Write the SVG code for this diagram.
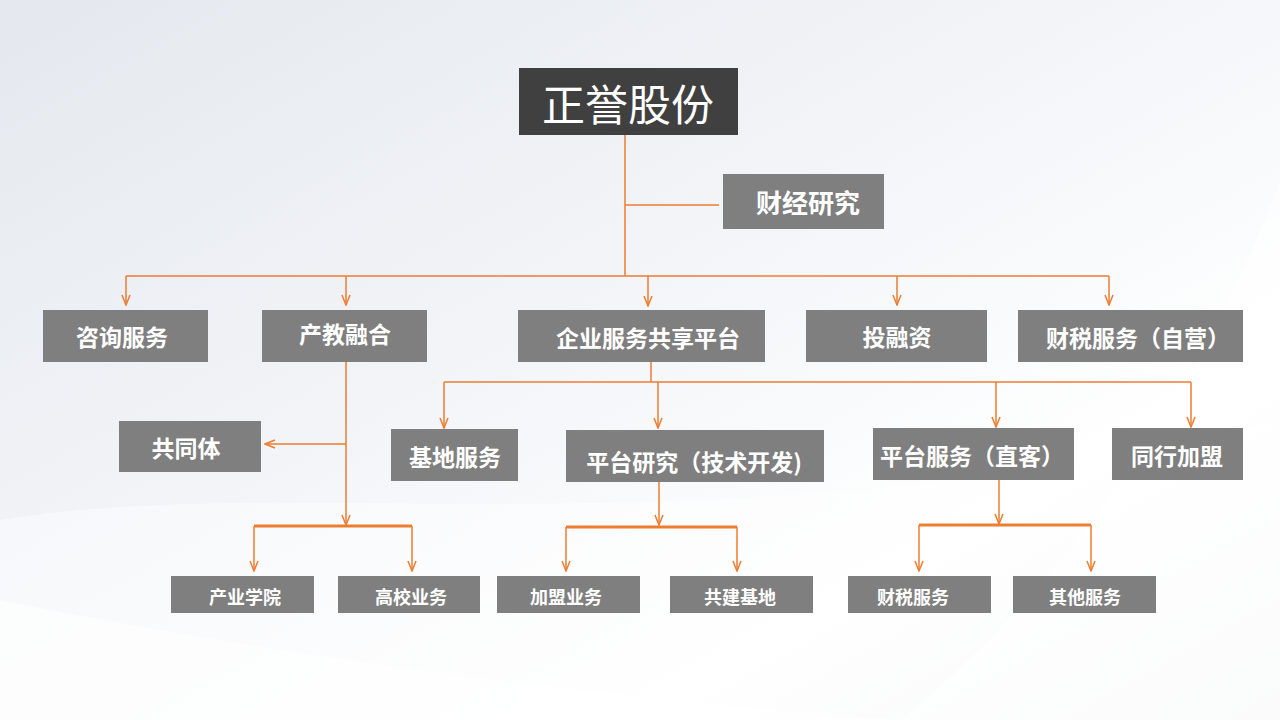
<svg xmlns="http://www.w3.org/2000/svg" width="1280" height="720" viewBox="0 0 1280 720">
<defs>
<linearGradient id="bg" x1="0" y1="0" x2="1" y2="1">
<stop offset="0" stop-color="#e4e8ee"/>
<stop offset="0.45" stop-color="#f3f5f8"/>
<stop offset="0.75" stop-color="#ffffff"/>
<stop offset="1" stop-color="#eef0f3"/>
</linearGradient>
<marker id="arr" viewBox="0 0 12 10" refX="11" refY="5" markerWidth="12" markerHeight="10" markerUnits="userSpaceOnUse" orient="auto">
<path d="M1,1 L11,5 L1,9" fill="none" stroke="#ED7D31" stroke-width="1.5"/>
</marker>
<style>
.box{fill:#7f7f7f}
.top{fill:#404040}
.t{font-family:"Noto Sans CJK SC","Noto Sans",sans-serif;font-weight:bold;fill:#ffffff;text-anchor:middle;dominant-baseline:central}
.t1{font-size:23px}
.t3{font-size:18px}
.ln{fill:none;stroke:#ED7D31;stroke-width:1.5}
.lb{fill:none;stroke:#ED7D31;stroke-width:3}
</style>
</defs>
<rect width="1280" height="720" fill="url(#bg)"/>
<path d="M0,520 C300,470 700,560 1280,420 L1280,720 L0,720 Z" fill="#ffffff" opacity="0.45"/>
<path d="M900,720 C1050,600 1200,400 1280,180 L1280,720 Z" fill="#ffffff" opacity="0.5"/>
<path d="M0,600 C200,640 500,690 900,720 L0,720 Z" fill="#ffffff" opacity="0.6"/>

<g id="connectors">
<path class="ln" d="M625,135 V276"/>
<path class="ln" d="M625,205 H719"/>
<path class="ln" d="M126,276 H1109"/>
<path class="ln" d="M126,276 V305" marker-end="url(#arr)"/>
<path class="ln" d="M346,276 V305" marker-end="url(#arr)"/>
<path class="ln" d="M648,276 V306" marker-end="url(#arr)"/>
<path class="ln" d="M897,276 V305" marker-end="url(#arr)"/>
<path class="ln" d="M1109,276 V305" marker-end="url(#arr)"/>
<path class="ln" d="M651,362 V382"/>
<path class="ln" d="M444,382 H1191"/>
<path class="ln" d="M444,382 V428" marker-end="url(#arr)"/>
<path class="ln" d="M658,382 V428" marker-end="url(#arr)"/>
<path class="ln" d="M996,382 V427" marker-end="url(#arr)"/>
<path class="ln" d="M1191,382 V427" marker-end="url(#arr)"/>
<path class="ln" d="M346,362 V525" marker-end="url(#arr)"/>
<path class="ln" d="M346,444 H265" marker-end="url(#arr)"/>
<path class="lb" d="M254,526 H412"/>
<path class="ln" d="M254,526 V571" marker-end="url(#arr)"/>
<path class="ln" d="M412,526 V571" marker-end="url(#arr)"/>
<path class="ln" d="M659,482 V525" marker-end="url(#arr)"/>
<path class="lb" d="M566,527 H737"/>
<path class="ln" d="M566,527 V571" marker-end="url(#arr)"/>
<path class="ln" d="M737,527 V571" marker-end="url(#arr)"/>
<path class="ln" d="M999,480 V524" marker-end="url(#arr)"/>
<path class="lb" d="M919,525 H1091"/>
<path class="ln" d="M919,525 V571" marker-end="url(#arr)"/>
<path class="ln" d="M1091,525 V571" marker-end="url(#arr)"/>
</g>

<g id="n0"><rect class="top" x="519" y="68" width="219" height="67"/><text class="t" x="628" y="102" style="font-size:43px;font-weight:normal">正誉股份</text></g>
<g id="n1"><rect class="box" x="723" y="174" width="161" height="55"/><text class="t" x="808" y="201" style="font-size:26px">财经研究</text></g>

<g id="n2"><rect class="box" x="43" y="310" width="165" height="52"/><text class="t t1" x="122" y="336">咨询服务</text></g>
<g id="n3"><rect class="box" x="262" y="310" width="165" height="52"/><text class="t t1" x="345" y="333">产教融合</text></g>
<g id="n4"><rect class="box" x="518" y="310" width="247" height="52"/><text class="t t1" x="648" y="337">企业服务共享平台</text></g>
<g id="n5"><rect class="box" x="806" y="310" width="181" height="52"/><text class="t t1" x="897" y="336">投融资</text></g>
<g id="n6"><rect class="box" x="1018" y="310" width="225" height="52"/><text class="t t1" x="1138" y="337">财税服务（自营）</text></g>

<g id="n7"><rect class="box" x="119" y="421" width="142" height="51"/><text class="t t1" x="186" y="447">共同体</text></g>
<g id="n8"><rect class="box" x="391" y="429" width="127" height="52"/><text class="t t1" x="455" y="456">基地服务</text></g>
<g id="n9"><rect class="box" x="566" y="430" width="258" height="52"/><text class="t t1" x="694" y="461">平台研究（技术开发)</text></g>
<g id="n10"><rect class="box" x="873" y="428" width="201" height="52"/><text class="t t1" x="972" y="455">平台服务（直客）</text></g>
<g id="n11"><rect class="box" x="1112" y="428" width="131" height="52"/><text class="t t1" x="1177" y="455">同行加盟</text></g>

<g id="n12"><rect class="box" x="171" y="576" width="143" height="37"/><text class="t t3" x="245" y="596">产业学院</text></g>
<g id="n13"><rect class="box" x="338" y="576" width="142" height="37"/><text class="t t3" x="411" y="596">高校业务</text></g>
<g id="n14"><rect class="box" x="497" y="576" width="143" height="37"/><text class="t t3" x="566" y="596">加盟业务</text></g>
<g id="n15"><rect class="box" x="670" y="576" width="143" height="37"/><text class="t t3" x="740" y="596">共建基地</text></g>
<g id="n16"><rect class="box" x="848" y="576" width="143" height="37"/><text class="t t3" x="913" y="596">财税服务</text></g>
<g id="n17"><rect class="box" x="1013" y="576" width="143" height="37"/><text class="t t3" x="1085" y="596">其他服务</text></g>
</svg>
